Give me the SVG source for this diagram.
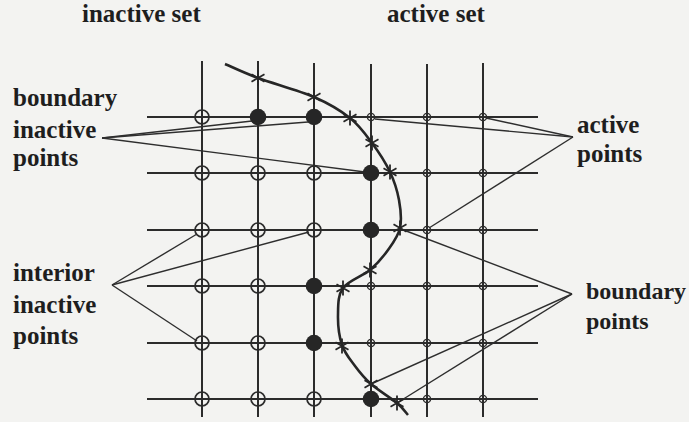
<svg xmlns="http://www.w3.org/2000/svg" width="689" height="422" viewBox="0 0 689 422">
<style>
.bg{fill:#f3f3f1}
.grid line{stroke:#2b2b2b;stroke-width:2}
.curve{fill:none;stroke:#262626;stroke-width:2.6}
.ptr line{stroke:#2e2e2e;stroke-width:1.4}
.open{fill:none;stroke:#2b2b2b;stroke-width:1.7}
.filled{fill:#262626;stroke:none}
.small{fill:none;stroke:#2b2b2b;stroke-width:1.4}
.star{fill:none;stroke:#262626;stroke-width:1.8}
text{font-family:"Liberation Serif","Times New Roman",serif;font-weight:bold;font-size:25px;fill:#1e1e1e}
.r{font-size:24px}
</style>
<defs>
<path id="st" class="star" d="M0,-7.5V7.5M-6.5,-3.7L6.5,3.7M-6.5,3.7L6.5,-3.7"/>
</defs>
<rect class="bg" x="0" y="0" width="689" height="422"/>
<g id="labels">
<text x="82" y="22">inactive set</text>
<text x="387" y="22">active set</text>
<text x="13" y="106">boundary</text>
<text x="13" y="138">inactive</text>
<text x="13" y="166">points</text>
<text x="577" y="133">active</text>
<text x="577" y="162">points</text>
<text x="13" y="281">interior</text>
<text x="13" y="313">inactive</text>
<text x="13" y="344">points</text>
<text class="r" x="586" y="299">boundary</text>
<text class="r" x="586" y="329">points</text>
</g>
<g id="grid" class="grid">
<line x1="202" y1="61" x2="202" y2="417"/>
<line x1="258" y1="61" x2="258" y2="417"/>
<line x1="314" y1="63" x2="314" y2="417"/>
<line x1="371" y1="64" x2="371" y2="417"/>
<line x1="427" y1="64" x2="427" y2="417"/>
<line x1="483" y1="63" x2="483" y2="417"/>
<line x1="147" y1="117" x2="538" y2="117"/>
<line x1="147" y1="173" x2="538" y2="173"/>
<line x1="147" y1="230" x2="538" y2="230"/>
<line x1="147" y1="286" x2="538" y2="286"/>
<line x1="147" y1="343" x2="538" y2="343"/>
<line x1="147" y1="399" x2="538" y2="399"/>
</g>
<g id="connectors" class="ptr">
<line x1="102" y1="138" x2="252" y2="121"/>
<line x1="102" y1="138" x2="308" y2="122"/>
<line x1="102" y1="138" x2="365" y2="172"/>
<line x1="573" y1="137" x2="486" y2="118"/>
<line x1="573" y1="137" x2="375" y2="119"/>
<line x1="573" y1="137" x2="429" y2="228"/>
<line x1="112" y1="285" x2="197" y2="234"/>
<line x1="112" y1="285" x2="309" y2="232"/>
<line x1="112" y1="285" x2="197" y2="341"/>
<line x1="572" y1="294" x2="401" y2="229"/>
<line x1="572" y1="294" x2="371" y2="384"/>
<line x1="572" y1="294" x2="397" y2="403"/>
</g>
<g id="interface">
<path class="curve" d="M225,64 C230.5,66.3 243.2,72.5 258,78 C272.8,83.5 298.7,90.3 314,97 C329.3,103.7 340.3,110.3 350,118 C359.7,125.7 365.3,134 372,143 C378.7,152 385.5,162.5 390,172 C394.5,181.5 397.3,190.7 399,200 C400.7,209.3 401.8,219.7 400,228 C398.2,236.3 393,243 388,250 C383,257 377.5,263.7 370,270 C362.5,276.3 348.3,280.5 343,288 C337.7,295.5 338.2,305.5 338,315 C337.8,324.5 339.2,336.5 342,345 C344.8,353.5 350.2,359.5 355,366 C359.8,372.5 364,377.8 371,384 C378,390.2 390.8,397.8 397,403 C403.2,408.2 406.2,413 408,415"/>
<use href="#st" x="258" y="78"/>
<use href="#st" x="314" y="97"/>
<use href="#st" x="350" y="118"/>
<use href="#st" x="372" y="143"/>
<use href="#st" x="390" y="172"/>
<use href="#st" x="400" y="228"/>
<use href="#st" x="370" y="270"/>
<use href="#st" x="343" y="288"/>
<use href="#st" x="342" y="346"/>
<use href="#st" x="371" y="384"/>
<use href="#st" x="397" y="403"/>
</g>
<g id="nodes">
<g id="n11"><circle class="open" cx="202" cy="117" r="7"/></g>
<g id="n12"><circle class="filled" cx="258" cy="117" r="8.3"/></g>
<g id="n13"><circle class="filled" cx="314" cy="117" r="8.3"/></g>
<g id="n14"><circle class="small" cx="371" cy="117" r="3.6"/></g>
<g id="n15"><circle class="small" cx="427" cy="117" r="3.6"/></g>
<g id="n16"><circle class="small" cx="483" cy="117" r="3.6"/></g>
<g id="n21"><circle class="open" cx="202" cy="173" r="7"/></g>
<g id="n22"><circle class="open" cx="258" cy="173" r="7"/></g>
<g id="n23"><circle class="open" cx="314" cy="173" r="7"/></g>
<g id="n24"><circle class="filled" cx="371" cy="173" r="8.3"/></g>
<g id="n25"><circle class="small" cx="427" cy="173" r="3.6"/></g>
<g id="n26"><circle class="small" cx="483" cy="173" r="3.6"/></g>
<g id="n31"><circle class="open" cx="202" cy="230" r="7"/></g>
<g id="n32"><circle class="open" cx="258" cy="230" r="7"/></g>
<g id="n33"><circle class="open" cx="314" cy="230" r="7"/></g>
<g id="n34"><circle class="filled" cx="371" cy="230" r="8.3"/></g>
<g id="n35"><circle class="small" cx="427" cy="230" r="3.6"/></g>
<g id="n36"><circle class="small" cx="483" cy="230" r="3.6"/></g>
<g id="n41"><circle class="open" cx="202" cy="286" r="7"/></g>
<g id="n42"><circle class="open" cx="258" cy="286" r="7"/></g>
<g id="n43"><circle class="filled" cx="314" cy="286" r="8.3"/></g>
<g id="n44"><circle class="small" cx="371" cy="286" r="3.6"/></g>
<g id="n45"><circle class="small" cx="427" cy="286" r="3.6"/></g>
<g id="n46"><circle class="small" cx="483" cy="286" r="3.6"/></g>
<g id="n51"><circle class="open" cx="202" cy="343" r="7"/></g>
<g id="n52"><circle class="open" cx="258" cy="343" r="7"/></g>
<g id="n53"><circle class="filled" cx="314" cy="343" r="8.3"/></g>
<g id="n54"><circle class="small" cx="371" cy="343" r="3.6"/></g>
<g id="n55"><circle class="small" cx="427" cy="343" r="3.6"/></g>
<g id="n56"><circle class="small" cx="483" cy="343" r="3.6"/></g>
<g id="n61"><circle class="open" cx="202" cy="399" r="7"/></g>
<g id="n62"><circle class="open" cx="258" cy="399" r="7"/></g>
<g id="n63"><circle class="open" cx="314" cy="399" r="7"/></g>
<g id="n64"><circle class="filled" cx="371" cy="399" r="8.3"/></g>
<g id="n65"><circle class="small" cx="427" cy="399" r="3.6"/></g>
<g id="n66"><circle class="small" cx="483" cy="399" r="3.6"/></g>
</g>
</svg>
